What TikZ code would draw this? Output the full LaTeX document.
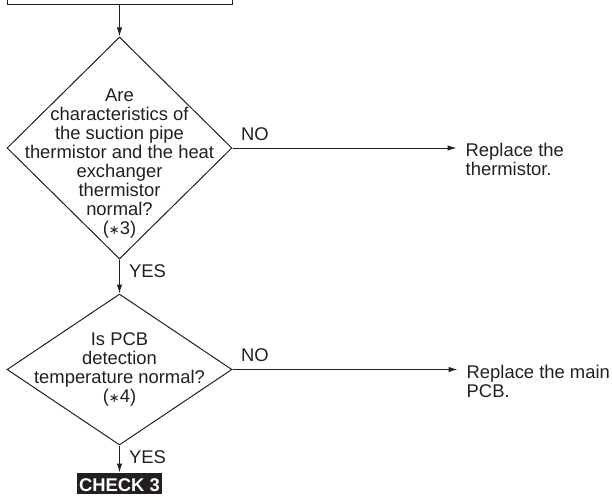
\documentclass[tikz,border=0pt]{standalone}
\usepackage{fontspec}
\setmainfont{Liberation Sans}
\newfontfamily\symfont{DejaVu Sans}
\usetikzlibrary{arrows.meta,positioning,shapes.geometric}
\definecolor{Ink}{HTML}{231F20}
\newcommand{\chartsize}{\fontsize{18.4pt}{19pt}\selectfont}
\newcommand{\note}[1]{({\symfont\fontsize{13pt}{19pt}\selectfont ∗}#1)}
\tikzset{
  startbox/.style={draw=Ink,line width=1pt,minimum width=225pt,minimum height=40pt},
  ask/.style={draw=Ink,shape=diamond,line width=1pt,minimum width=225pt,inner sep=0pt},
  asktext/.style={font=\chartsize,text=Ink,align=center,inner sep=0pt},
  fix/.style={font=\chartsize,text=Ink,align=left,inner sep=0pt},
  tag/.style={font=\chartsize,text=Ink,inner sep=0pt},
  goto/.style={fill=Ink,text=white,font=\chartsize\bfseries,minimum width=85pt,text height=18.5pt,text depth=2.5pt,inner sep=0pt},
  flow/.style={-{Latex[length=9pt,width=5.5pt]},draw=Ink,line width=1pt}
}
\begin{document}
\begin{tikzpicture}[x=1pt,y=1pt]
  \useasboundingbox (0,0) rectangle (612,-496);
  \clip (0,0) rectangle (612,-496);
  \node[startbox] (start) at (119.5,16) {};
  \node[ask,minimum height=222pt,below=32pt of start] (q1) {};
  \node[asktext,yshift=-16pt] (q1text) at (q1) {Are\\characteristics of\\the suction pipe\\thermistor and the heat\\exchanger\\thermistor\\normal?\\\note{3}};
  \node[ask,minimum height=151pt,below=34pt of q1] (q2) {};
  \node[asktext] (q2text) at (q2) {Is PCB\\detection\\temperature normal?\\\note{4}};
  \node[goto,below=27pt of q2] (check3) {CHECK 3};
  \coordinate[right=224pt of q1.east] (no1);
  \coordinate[right=225pt of q2.east] (no2);
  \node[fix,right=9pt of no1,anchor=north west,yshift=5pt] (fix1) {Replace the\\thermistor.};
  \node[fix,right=9pt of no2,anchor=north west,yshift=5pt] (fix2) {Replace the main\\PCB.};
  \draw[flow] (start) -- (q1);
  \draw[flow] (q1) -- node[tag,pos=0,anchor=north west,xshift=9pt,yshift=-5pt]{YES} (q2);
  \draw[flow] (q2) -- node[tag,pos=0,anchor=north west,xshift=9pt,yshift=-5pt]{YES} (check3);
  \draw[flow] (q1) -- node[tag,pos=0,anchor=south west,xshift=8pt,yshift=7pt]{NO} (no1);
  \draw[flow] (q2) -- node[tag,pos=0,anchor=south west,xshift=8pt,yshift=7pt]{NO} (no2);
\end{tikzpicture}
\end{document}
